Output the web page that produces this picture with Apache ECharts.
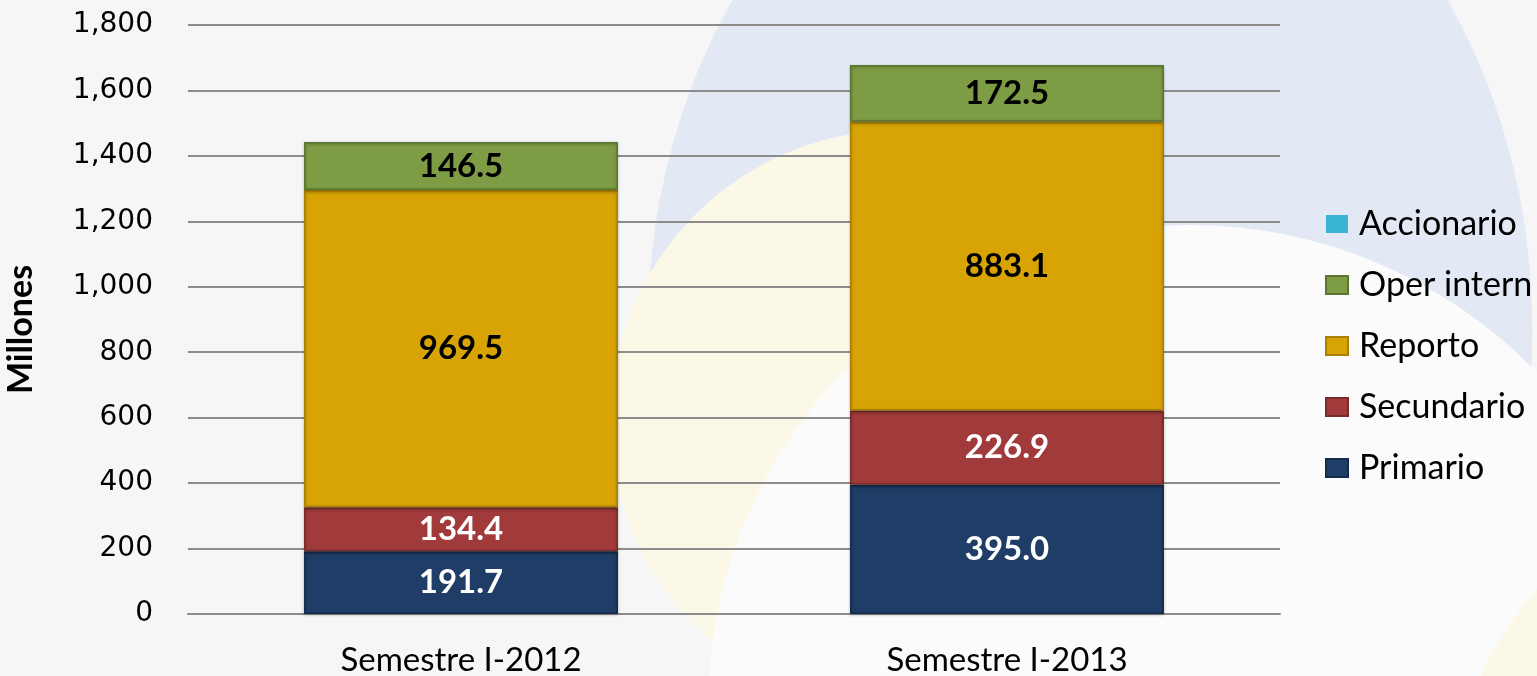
<!DOCTYPE html>
<html>
<head>
<meta charset="utf-8">
<script src="https://cdn.jsdelivr.net/npm/echarts@6/dist/echarts.min.js"></script>
<style>
  html, body { margin: 0; padding: 0; background: #f6f6f7; }
  #chart { width: 1537px; height: 676px; }
</style>
</head>
<body>
<div id="chart"></div>
<script>
// data
var categories = ['Semestre I-2012', 'Semestre I-2013'];
var primario = [191.7, 395.0];
var secundario = [134.4, 226.9];
var reporto = [969.5, 883.1];
var operIntern = [146.5, 172.5];
var accionario = [0, 0];
var legendOrder = ['Accionario', 'Oper intern', 'Reporto', 'Secundario', 'Primario'];

var chart = echarts.init(document.getElementById('chart'));

function serie(name, data, color, border, labelColor) {
  return {
    name: name,
    type: 'bar',
    stack: 'total',
    barWidth: '57.5%',
    data: data,
    itemStyle: {
      color: color,
      borderColor: border,
      borderWidth: 1.5,
      shadowColor: 'rgba(0,0,0,0.3)',
      shadowBlur: 3,
      shadowOffsetY: 1
    },
    label: {
      show: true,
      position: 'inside',
      color: labelColor,
      fontFamily: 'Lato',
      fontWeight: 'bold',
      fontSize: 33,
      formatter: function (p) { return p.value > 0 ? p.value.toFixed(1) : ''; }
    }
  };
}

var acc = serie('Accionario', accionario, '#3ab5d5', '#2a8ba5', '#000');
acc.itemStyle.borderWidth = 0;
acc.itemStyle.shadowBlur = 0;
acc.itemStyle.shadowOffsetY = 0;

chart.setOption({
  animation: false,
  backgroundColor: '#f6f6f7',
  // soft background swirls
  graphic: [
    { type: 'circle', z: -10, silent: true, x: 1090, y: 330, scaleX: 0.79, shape: { cx: 0, cy: 0, r: 560 }, style: { fill: '#e3e9f4' } },
    { type: 'circle', z: -9, silent: true, shape: { cx: 900, cy: 420, r: 290 }, style: { fill: '#fbf8e8' } },
    { type: 'circle', z: -8, silent: true, shape: { cx: 1190, cy: 707, r: 482 }, style: { fill: '#fbfbfc' } },
    { type: 'circle', z: -7, silent: true, shape: { cx: 1800, cy: 820, r: 350 }, style: { fill: '#fbf8e8' } }
  ],
  grid: { left: 188, right: 257, top: 25, bottom: 62, outerBoundsMode: 'none' },
  legend: {
    orient: 'vertical',
    left: 1320,
    top: 202,
    icon: 'rect',
    itemWidth: 22,
    itemHeight: 18,
    itemGap: 27,
    data: legendOrder,
    textStyle: { fontFamily: 'Lato', fontSize: 34, lineHeight: 34, color: '#000', padding: [0, 0, 0, 6] }
  },
  xAxis: {
    type: 'category',
    data: categories,
    axisLine: { lineStyle: { color: '#8c8c8c', width: 2 } },
    axisTick: { show: false },
    axisLabel: { margin: 30, fontFamily: 'Lato', fontSize: 33, color: '#000' }
  },
  yAxis: {
    type: 'value',
    min: 0,
    max: 1800,
    interval: 200,
    name: 'Millones',
    nameLocation: 'middle',
    nameGap: 150,
    nameTextStyle: { fontFamily: 'Lato', fontWeight: 'bold', fontSize: 34, color: '#000', padding: [0, 20, 0, 0] },
    axisLine: { show: false },
    axisTick: { show: false },
    splitLine: { lineStyle: { color: '#8c8c8c', width: 2 } },
    axisLabel: {
      margin: 35,
      fontFamily: 'DejaVu Sans',
      fontSize: 28,
      color: '#000',
      formatter: function (v) { return v.toLocaleString('en-US'); }
    }
  },
  series: [
    serie('Primario', primario, '#1f3d66', '#152d4d', '#fff'),
    serie('Secundario', secundario, '#a13b3b', '#7a2b2b', '#fff'),
    serie('Reporto', reporto, '#d8a405', '#a88004', '#000'),
    serie('Oper intern', operIntern, '#7e9c44', '#5b7630', '#000'),
    acc
  ]
});
</script>
</body>
</html>
